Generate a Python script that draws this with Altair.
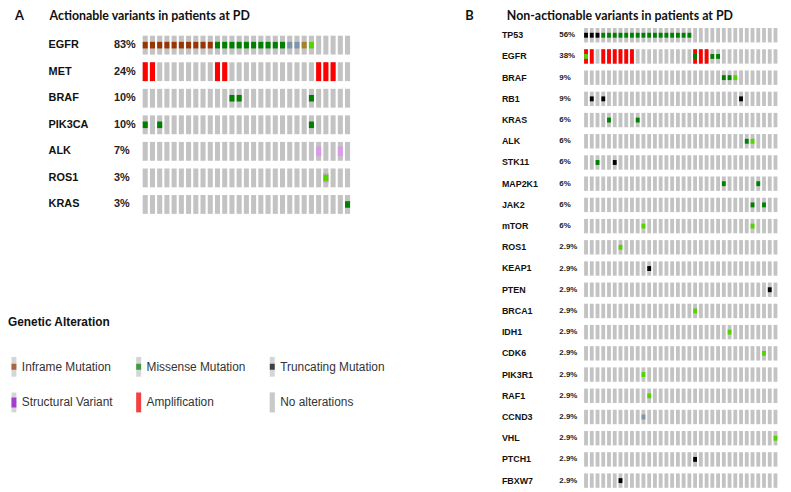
import altair as alt
import pandas as pd

GRAY = "#c3c3c3"

# ---------------- Panel A: actionable variants (29 patients) ----------------
genes_a = ["EGFR", "MET", "BRAF", "PIK3CA", "ALK", "ROS1", "KRAS"]
pct_a = ["83%", "24%", "10%", "10%", "7%", "3%", "3%"]
n_patients_a = 29
alts_a = {
    "EGFR": {"inframe": [0, 1, 2, 3, 4, 5, 6, 7, 8, 9],
             "missense": [10, 11, 12, 13, 14, 15, 16, 17, 18, 19],
             "other": [20, 21], "inframe_vus": [22], "missense_vus": [23]},
    "MET": {"amp": [0, 1, 10, 11, 24, 25, 26]},
    "BRAF": {"missense": [12, 13, 23]},
    "PIK3CA": {"missense": [0, 2, 23]},
    "ALK": {"sv_vus": [24, 27]},
    "ROS1": {"sv_vus": [25], "missense_vus": [25]},
    "KRAS": {"missense": [28]},
}

# ---------------- Panel B: non-actionable variants (34 patients) ----------------
genes_b = ["TP53", "EGFR", "BRAF", "RB1", "KRAS", "ALK", "STK11", "MAP2K1", "JAK2",
           "mTOR", "ROS1", "KEAP1", "PTEN", "BRCA1", "IDH1", "CDK6", "PIK3R1", "RAF1",
           "CCND3", "VHL", "PTCH1", "FBXW7"]
pct_b = ["56%", "38%", "9%", "9%", "6%", "6%", "6%", "6%", "6%", "6%", "2.9%", "2.9%",
         "2.9%", "2.9%", "2.9%", "2.9%", "2.9%", "2.9%", "2.9%", "2.9%", "2.9%", "2.9%"]
n_patients_b = 34
alts_b = {
    "TP53": {"truncating": [0, 1, 2],
             "missense": [3, 4, 5, 6, 7, 8, 9, 10, 11, 12, 13, 14, 15, 16, 17, 18]},
    "EGFR": {"amp": [0, 1, 3, 4, 5, 6, 7, 8, 19, 20, 21],
             "missense_vus": [0], "missense": [19, 22, 23]},
    "BRAF": {"missense": [24, 25], "missense_vus": [26]},
    "RB1": {"truncating": [1, 3, 27]},
    "KRAS": {"missense": [4, 9]},
    "ALK": {"missense": [28], "missense_vus": [29]},
    "STK11": {"missense": [2], "truncating": [5]},
    "MAP2K1": {"missense": [24, 30]},
    "JAK2": {"missense": [29, 31]},
    "mTOR": {"missense_vus": [10, 29]},
    "ROS1": {"missense_vus": [6]},
    "KEAP1": {"truncating": [11]},
    "PTEN": {"truncating": [32]},
    "BRCA1": {"missense_vus": [19]},
    "IDH1": {"missense_vus": [25]},
    "CDK6": {"missense_vus": [31]},
    "PIK3R1": {"missense_vus": [10]},
    "RAF1": {"missense_vus": [11]},
    "CCND3": {"other": [10]},
    "VHL": {"missense_vus": [33]},
    "PTCH1": {"truncating": [19]},
    "FBXW7": {"truncating": [6]},
}

# alteration types -> colour and glyph kind
type_names = ["inframe", "inframe_vus", "missense", "missense_vus", "truncating",
              "other", "amp", "sv", "sv_vus"]
type_colors = ["#993404", "#a68028", "#008000", "#53d400", "#000000",
               "#8093ad", "#ff0000", "#8b00c9", "#d89ce8"]
type_kind = {"inframe": "mut", "inframe_vus": "mut", "missense": "mut",
             "missense_vus": "mut", "truncating": "mut", "other": "mut",
             "amp": "full", "sv": "sv", "sv_vus": "sv"}

# legend
legend_labels = ["Inframe Mutation", "Missense Mutation", "Truncating Mutation",
                 "Structural Variant", "Amplification", "No alterations"]
legend_colors = ["#993404", "#008000", "#000000", "#8b00c9", "#ff0000", GRAY]
legend_kinds = ["mut", "mut", "mut", "sv", "full", "full"]

titles = ["A", "Actionable variants in patients at PD",
          "B", "Non-actionable variants in patients at PD"]


def events_df(alts):
    rows = []
    for g, d in alts.items():
        for t, cols in d.items():
            for c in cols:
                rows.append({"gene": g, "col": c, "type": t, "kind": type_kind[t]})
    return pd.DataFrame(rows)


def panel(genes, pcts, n, alts, xr, px, yr, py, lab_x, pct_x, lab_size, pct_size, mut_band):
    cols = list(range(n))
    bg = pd.DataFrame([{"gene": g, "col": c} for g in genes for c in cols])
    ev = events_df(alts)
    labs = pd.DataFrame({"gene": genes, "pct": pcts})
    xs = alt.Scale(domain=cols, range=xr, paddingInner=px, paddingOuter=px / 2)
    ys = alt.Scale(domain=genes, range=yr, paddingInner=py, paddingOuter=py / 2)
    cs = alt.Scale(domain=type_names, range=type_colors)
    X = alt.X("col:O", scale=xs, axis=None)
    Y = alt.Y("gene:N", scale=ys, axis=None)
    C = alt.Color("type:N", scale=cs, legend=None)
    layers = [alt.Chart(bg).mark_rect(color=GRAY).encode(x=X, y=Y)]
    for kind, band in [("full", None), ("sv", 0.52), ("mut", mut_band)]:
        sub = ev[ev["kind"] == kind]
        if len(sub) == 0:
            continue
        if band is None:
            m = alt.Chart(sub).mark_rect()
        else:
            m = alt.Chart(sub).mark_rect(height={"band": band})
        layers.append(m.encode(x=X, y=Y, color=C))
    layers.append(alt.Chart(labs).mark_text(align="left", baseline="middle",
                  font="Liberation Sans", fontSize=lab_size, fontWeight="bold",
                  color="#111").encode(y=Y, x=alt.value(lab_x), text="gene:N"))
    layers.append(alt.Chart(labs).mark_text(align="left", baseline="middle",
                  font="Liberation Sans", fontSize=pct_size, fontWeight="bold",
                  color="#222").encode(y=Y, x=alt.value(pct_x), text="pct:N"))
    return alt.layer(*layers)


panel_a = panel(genes_a, pct_a, n_patients_a, alts_a,
                [135, 346.7], 0.3, [21.6, 209.4], 0.29, 41, 107, 11, 11, 0.35)
panel_b = panel(genes_b, pct_b, n_patients_b, alts_b,
                [581.1, 778.3], 0.33, [14.3, 485.7], 0.32, 499, 557, 9, 8, 0.34)


def title_layer(text, x, size):
    return alt.Chart(pd.DataFrame({"t": [text]})).mark_text(
        align="left", baseline="middle", font="Lato", fontSize=size,
        fontWeight="bold", color="#111").encode(
        text="t:N", x=alt.value(x), y=alt.value(6))


t_layers = [title_layer(titles[0], 7, 13), title_layer(titles[1], 42, 12.5),
            title_layer(titles[2], 462, 13), title_layer(titles[3], 504, 12.5)]

# legend glyph paths (unit coords, scaled by sqrt(size)/2)
BAR = "M-0.5,-2H0.5V2H-0.5Z"
paths = {"full": BAR,
         "sv": "M-0.5,-1H0.5V1H-0.5Z M0,-2L0,-2 M0,2L0,2",
         "mut": "M-0.5,-0.6H0.5V0.6H-0.5Z M0,-2L0,-2 M0,2L0,2"}
leg_df = pd.DataFrame({"lg1": legend_labels, "lg2": legend_labels})

common = dict(orient="none", legendX=0, legendY=310, columns=3, direction="horizontal",
              gridAlign="none", columnPadding=20, rowPadding=16, symbolSize=100,
              symbolStrokeWidth=0, labelFont="Liberation Sans", labelFontSize=12,
              labelColor="#333", labelOffset=2, title="Genetic Alteration",
              titleFont="Liberation Sans", titleFontSize=12, titleFontWeight="bold",
              titleColor="#111", titlePadding=32, padding=0)

leg1 = alt.Chart(leg_df).transform_filter("false").mark_point(
    filled=True, color=GRAY, size=100, strokeWidth=0).encode(
    shape=alt.Shape("lg1:N", scale=alt.Scale(domain=legend_labels, range=[BAR] * 6),
                    legend=alt.Legend(zindex=1, **common)))

leg2 = alt.Chart(leg_df).transform_filter("false").mark_point(
    filled=True, size=100, strokeWidth=0).encode(
    shape=alt.Shape("lg2:N", scale=alt.Scale(domain=legend_labels,
                                             range=[paths[k] for k in legend_kinds]),
                    legend=alt.Legend(zindex=2, labelOpacity=0, titleOpacity=0, **common)),
    color=alt.Color("lg2:N", scale=alt.Scale(domain=legend_labels, range=legend_colors),
                    legend=alt.Legend(zindex=2, labelOpacity=0, titleOpacity=0, **common)))

chart = alt.layer(panel_a, panel_b, *t_layers, leg1, leg2).resolve_scale(
    x="independent", y="independent", color="independent", shape="independent"
).resolve_legend(color="independent", shape="independent").properties(
    width=783, height=484, padding=0, autosize=alt.AutoSizeParams(type="none")
).configure_view(stroke=None)

chart.save("out.html", embed_options={"renderer": "svg", "actions": False})
